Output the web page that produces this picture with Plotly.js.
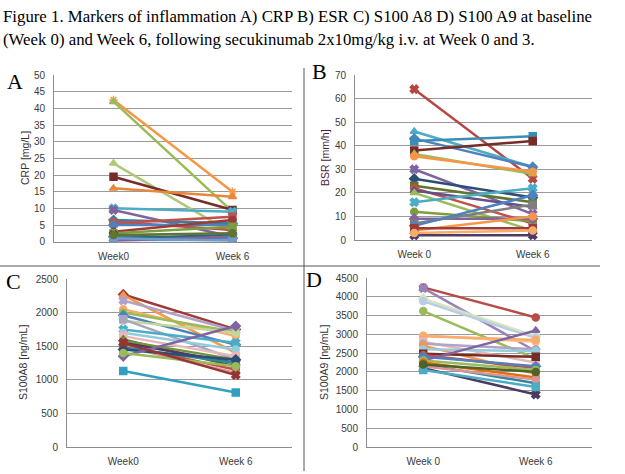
<!DOCTYPE html>
<html>
<head>
<meta charset="utf-8">
<script src="https://cdn.plot.ly/plotly-3.0.1.min.js"></script>
<style>html,body{margin:0;padding:0;background:#fff;}#chart{width:625px;height:474px;}</style>
</head>
<body>
<div id="chart"></div>
<script>
// ---------- DATA ----------
const weeksAC = ['Week0', 'Week 6'];
const weeksBD = ['Week 0', 'Week 6'];

// A) CRP [mg/L]
const crpWeek0 = [42.5, 42, 23.5, 19.5, 16, 10, 9.5, 6.5, 6, 5.5, 5, 3, 2.5, 2, 1.5, 1, 0.5, 0.3, 1, 2];
const crpWeek6 = [15, 9, 2.5, 9.5, 13.5, 9, 1.5, 5.5, 3.5, 7.5, 5, 6.5, 4.5, 0.5, 1, 2, 0.5, 1.5, 0.3, 2.5];

// B) ESR [mm/h]
const esrWeek0 = [64, 46, 43, 42, 38, 36.5, 35.5, 30, 26, 23, 22, 21, 20, 16, 12, 9, 7, 6, 4, 5, 2, 3];
const esrWeek6 = [26, 31, 31, 44, 42, 28, 29, 11, 18, 16, 7, 14, 4, 22, 8, 9, 15, 19, 10, 5, 2, 4];

// C) S100A8 [ng/mL]
const a8Week0 = [2270, 2260, 2180, 2050, 2000, 1960, 1880, 1900, 1750, 1700, 1650, 1600, 1580, 1550, 1520, 1500, 1480, 1450, 1350, 1400, 1550, 1130];
const a8Week6 = [1750, 1400, 1730, 1650, 1710, 1520, 1700, 1300, 1550, 1450, 1350, 1200, 1300, 1250, 1150, 1100, 1250, 1300, 1800, 1200, 1070, 810];

// D) S100A9 [ng/mL]
const a9Week0 = [4250, 4230, 3950, 3880, 3620, 2970, 2950, 2800, 2750, 2700, 2600, 2480, 2450, 2400, 2300, 2300, 2250, 2200, 2150, 2100, 2050, 2200];
const a9Week6 = [3450, 2550, 2950, 2900, 2350, 2800, 2850, 2250, 2600, 1950, 2550, 2400, 2100, 2150, 3100, 2050, 1850, 1700, 1800, 1400, 1600, 2000];

const titleLine1 = 'Figure 1. Markers of inflammation A) CRP B) ESR C) S100 A8 D) S100 A9 at baseline';
const titleLine2 = '(Week 0) and Week 6, following secukinumab 2x10mg/kg i.v. at Week 0 and 3.';

// ---------- STYLES ----------
const colA = ['#F79646','#9BBB59','#AFC97A','#772C2A','#E8863A','#4BACC6','#8064A2','#31859C','#C0504D','#C0504D','#4F81BD','#9E3B38','#7E9C40','#4D3B62','#4F81BD','#276A7C','#4BACC6','#8064A2','#729ACA','#5F7530'];
const symA = ['asterisk-open','triangle-up','triangle-up','square','triangle-up','x','x','diamond','circle','square','diamond','circle','square','x','diamond','x','asterisk-open','triangle-up','square','circle'];
const colB = ['#B84542','#4BACC6','#4F81BD','#3B8DB5','#772C2A','#9BBB59','#F79646','#8064A2','#2C4D75','#5F7530','#C0504D','#664F83','#9BBB59','#4BACC6','#7E9C40','#8064A2','#7F7F7F','#4F81BD','#F79646','#9E3B38','#4D3B62','#F9AB6B'];
const symB = ['x','triangle-up','diamond','square','square','triangle-up','circle','x','diamond','square','circle','triangle-up','triangle-up','x','circle','diamond','square','diamond','circle','square','x','circle'];
const colC = ['#9E3B38','#F79646','#B3A2C7','#F9AB6B','#9BBB59','#4F81BD','#C3D69B','#A6A6C0','#4BACC6','#93CDDD','#E6B9B8','#4F6228','#77933C','#4D3B62','#C0504D','#D99694','#31859C','#2C4D75','#8064A2','#9BBB59','#943634','#31A0C0'];
const symC = ['diamond','triangle-up','x','circle','circle','diamond','circle','square','x','circle','square','triangle-up','circle','x','circle','circle','square','diamond','diamond','circle','x','square'];
const colD = ['#B84A47','#9983B5','#D7E4BD','#B9CDE5','#9BBB59','#FAC090','#F9AB6B','#E6B9B8','#B3A2C7','#F79646','#93CDDD','#772C2A','#C0504D','#4F81BD','#8064A2','#9BBB59','#E46C0A','#31859C','#D99694','#4D3B62','#4BACC6','#4F6228'];
const symD = ['circle','x','diamond','circle','circle','circle','circle','square','circle','circle','circle','square','circle','diamond','triangle-up','circle','circle','circle','circle','x','square','circle'];

const traces = [];
function addPanel(w0, w6, cats, cols, syms, xa, ya) {
  for (let i = 0; i < w0.length; i++) {
    traces.push({
      type: 'scatter', mode: 'lines+markers',
      x: cats, y: [w0[i], w6[i]],
      xaxis: xa, yaxis: ya,
      line: {color: cols[i], width: 2.5},
      marker: {color: cols[i], symbol: syms[i], size: 7, line: {color: cols[i], width: 1.5}},
      showlegend: false, hoverinfo: 'y'
    });
  }
}
addPanel(crpWeek0, crpWeek6, weeksAC, colA, symA, 'x', 'y');
addPanel(esrWeek0, esrWeek6, weeksBD, colB, symB, 'x2', 'y2');
addPanel(a8Week0, a8Week6, weeksAC, colC, symC, 'x3', 'y3');
addPanel(a9Week0, a9Week6, weeksBD, colD, symD, 'x4', 'y4');

const W = 625, H = 474;
const px = v => v / W, py = v => 1 - v / H;
const sans = 'Liberation Sans, Arial, sans-serif';
const tickFont = {family: sans, size: 10, color: '#3a3a3a'};
function xax(l, r, anchor) {
  return {domain: [px(l), px(r)], anchor: anchor, type: 'category', range: [-0.5, 1.5],
    showgrid: false, showline: true, linecolor: '#8c8c8c', linewidth: 1,
    ticks: 'outside', ticklen: 5, tickcolor: 'rgba(0,0,0,0)',
    tickfont: tickFont, fixedrange: true};
}
function yax(t, b, anchor, max, dt) {
  return {domain: [py(b), py(t)], anchor: anchor, range: [0, max], dtick: dt,
    showgrid: true, gridcolor: '#9a9a9a', gridwidth: 1, zeroline: false,
    showline: true, linecolor: '#8c8c8c', linewidth: 1,
    ticks: 'outside', ticklen: 6, tickcolor: 'rgba(0,0,0,0)',
    tickfont: tickFont, fixedrange: true};
}

const serif = {family: 'Liberation Serif, Times New Roman, serif', color: '#000'};
function ann(text, x, y, size, font, extra) {
  return Object.assign({text: text, x: px(x), y: py(y), xref: 'paper', yref: 'paper',
    showarrow: false, xanchor: 'center', yanchor: 'middle',
    font: Object.assign({size: size}, font)}, extra || {});
}
const layout = {
  width: W, height: H,
  margin: {l: 0, r: 0, t: 0, b: 0},
  paper_bgcolor: '#fff', plot_bgcolor: '#fff',
  showlegend: false,
  xaxis: xax(54, 292, 'y'),
  yaxis: yax(75, 241.7, 'x', 50, 5),
  xaxis2: xax(355, 592, 'y2'),
  yaxis2: yax(75, 240, 'x2', 70, 10),
  xaxis3: xax(67, 292, 'y3'),
  yaxis3: yax(279, 447, 'x3', 2500, 500),
  xaxis4: xax(367, 592, 'y4'),
  yaxis4: yax(278, 447, 'x4', 4500, 500),
  annotations: [
    ann(titleLine1, 1, 16, 16.8, serif, {xanchor: 'left'}),
    ann(titleLine2, 1, 39, 16.8, serif, {xanchor: 'left'}),
    ann('A', 15, 81, 22, serif),
    ann('B', 319, 71, 22, serif),
    ann('C', 13, 281, 22, serif),
    ann('D', 314, 279, 22, serif),
    ann('CRP [mg/L]', 25, 158, 10.5, {family: sans, color: '#333'}, {textangle: -90}),
    ann('BSR [mm/h]', 325, 158, 10.5, {family: sans, color: '#4B1C3F'}, {textangle: -90}),
    ann('S100A8 [ng/mL]', 23, 363, 10.5, {family: sans, color: '#333'}, {textangle: -90}),
    ann('S100A9 [ng/mL]', 324, 363, 10.5, {family: sans, color: '#333'}, {textangle: -90})
  ],
  shapes: [
    {type: 'line', xref: 'paper', yref: 'paper', x0: px(0), x1: px(600), y0: py(266), y1: py(266), line: {color: '#555', width: 1}},
    {type: 'line', xref: 'paper', yref: 'paper', x0: px(304), x1: px(304), y0: py(68), y1: py(471), line: {color: '#555', width: 1}}
  ]
};

Plotly.newPlot('chart', traces, layout, {staticPlot: true, displayModeBar: false});
</script>
</body>
</html>
